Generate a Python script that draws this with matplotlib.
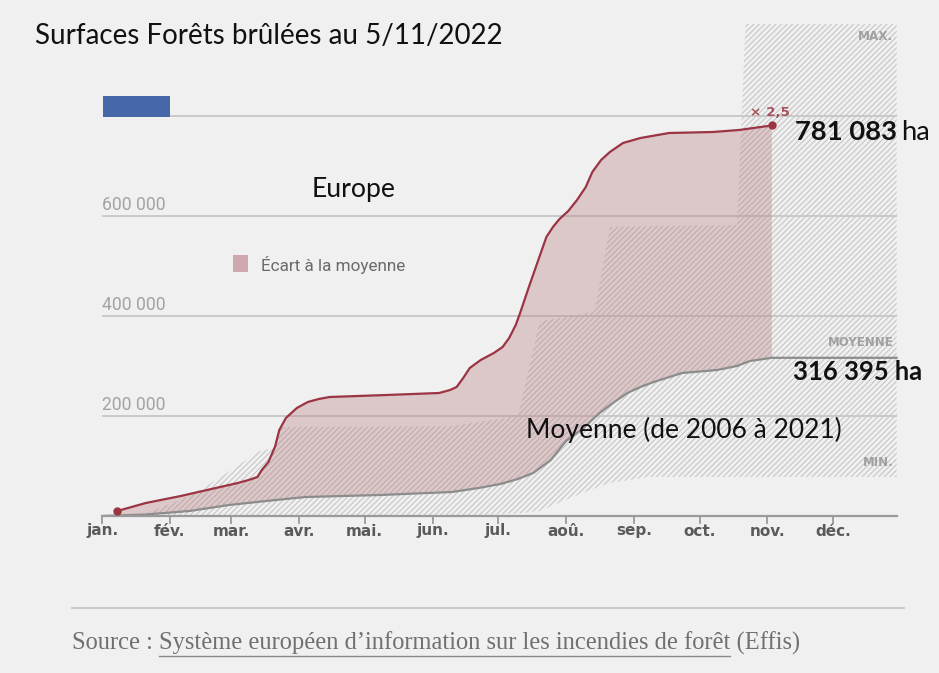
import matplotlib
matplotlib.use('Agg')
import matplotlib.pyplot as plt
import numpy as np
from matplotlib.patches import Rectangle
from matplotlib.lines import Line2D

# ---------------- data ----------------
month_labels = ['jan.', 'fév.', 'mar.', 'avr.', 'mai.', 'jun.', 'jul.', 'aoû.', 'sep.', 'oct.', 'nov.', 'déc.']
month_starts = [0, 31, 59, 90, 120, 151, 181, 212, 243, 273, 304, 334]

y_ticks = [200000, 400000, 600000]
y_tick_labels = ['200 000', '400 000', '600 000']

# 2022 cumulative burnt area (day of year, hectares)
days_2022 = [7, 20, 36, 50, 62, 67, 71, 73, 76, 79, 81, 84, 89, 94, 99, 104, 130, 154, 159,
             162, 165, 168, 173, 179, 183, 186, 189, 191, 193, 195, 199, 203, 206, 209, 213,
             217, 221, 224, 228, 232, 238, 246, 259, 279, 291, 306]
vals_2022 = [10000, 26000, 40000, 54000, 66000, 72000, 78000, 92000, 108000, 138000, 172000,
             196000, 216000, 228000, 234000, 238000, 242000, 246000, 252000, 258000, 276000,
             296000, 312000, 326000, 338000, 356000, 382000, 406000, 432000, 458000, 508000,
             558000, 578000, 594000, 610000, 632000, 658000, 688000, 712000, 728000, 746000,
             756000, 766000, 768000, 772000, 781083]

# mean 2006-2021
days_mean = [0, 20, 40, 58, 75, 93, 127, 160, 172, 182, 190, 197, 205, 212, 220, 227, 234,
             240, 246, 252, 265, 281, 290, 296, 306]
vals_mean = [0, 3000, 10000, 22000, 30000, 38000, 42000, 48000, 56000, 64000, 74000, 86000,
             112000, 150000, 176000, 205000, 228000, 246000, 258000, 268000, 286000, 292000,
             300000, 310000, 316395]

# min / max envelope 2006-2021
days_env = [0, 20, 40, 55, 72, 78, 82, 160, 190, 200, 215, 225, 232, 250, 290, 294, 363]
vals_max = [0, 5000, 40000, 80000, 130000, 136000, 178000, 180000, 200000, 390000, 400000,
            410000, 578000, 580000, 582000, 984000, 984000]
vals_min = [0, 0, 0, 0, 0, 0, 0, 0, 5000, 10000, 38000, 55000, 66000, 78000, 78000, 78000, 78000]

total_2022 = '781 083'
total_mean = '316 395'
ratio = '× 2,5'

# ---------------- figure ----------------
W, H = 939, 673
fig = plt.figure(figsize=(W / 100, H / 100), dpi=100)
BG = '#f0f0f0'
fig.patch.set_facecolor(BG)


def fx(x):
    return x / W


def fy(y):
    return 1 - y / H


ax = fig.add_axes([fx(102), fy(516), fx(901) - fx(102), fy(16) - fy(516)])
ax.set_xlim(0, 365)
ax.set_ylim(0, 1_000_000)
ax.axis('off')
ax.patch.set_alpha(0)

plt.rcParams['hatch.linewidth'] = 0.75

# envelope hatch
ax.fill_between(days_env, vals_min, vals_max, facecolor='none', edgecolor='#c4c4c4',
                hatch='//////', linewidth=0, zorder=1)

# grid lines
END = 363
for v in y_ticks:
    ax.plot([0, END], [v, v], color='#c6c6c6', lw=1.3, zorder=2, solid_capstyle='butt')
ax.plot([31, END], [800000, 800000], color='#c6c6c6', lw=1.3, zorder=2, solid_capstyle='butt')

NARROW = ['Liberation Sans Narrow', 'DejaVu Sans']

# pink fill between 2022 and mean
grid = np.linspace(days_2022[0], days_2022[-1], 600)
r_i = np.interp(grid, days_2022, vals_2022)
m_i = np.interp(grid, days_mean, vals_mean)
ax.fill_between(grid, m_i, r_i, facecolor='#b5767b', alpha=0.33, linewidth=0, zorder=3)

# mean line + extension
ax.plot(days_mean + [END], vals_mean + [vals_mean[-1]], color='#8c8c8c', lw=1.6, zorder=4,
        solid_joinstyle='round')
# 2022 line
ax.plot(days_2022, vals_2022, color='#9b3443', lw=1.6, zorder=5, solid_joinstyle='round')
ax.plot([days_2022[0], days_2022[-1]], [vals_2022[0], vals_2022[-1]], 'o', color='#9b3443',
        ms=5, zorder=6)

# x axis
ax.plot([0, END], [0, 0], color='#9a9a9a', lw=1.6, zorder=4, clip_on=False)
for d, lab in zip(month_starts, month_labels):
    ax.plot([d, d], [-14000, 0], color='#9a9a9a', lw=1.3, clip_on=False, zorder=4)
    ax.text(d, -30000, lab, ha='center', va='center', fontsize=11, color='#5a5a5a',
            family=NARROW, fontweight='bold')

# blue box
fig.patches.append(Rectangle((fx(103), fy(117)), fx(170) - fx(103), fy(96) - fy(117),
                             transform=fig.transFigure, facecolor='#4668a8', edgecolor='none'))

# legend
fig.patches.append(Rectangle((fx(233), fy(272)), fx(248) - fx(233), fy(255) - fy(272),
                             transform=fig.transFigure, facecolor='#cfa8ad', edgecolor='none'))

fig.canvas.draw()
R = fig.canvas.get_renderer()


def fit(x0, x1, yc, s, **kw):
    t = fig.text(fx(x0), fy(yc), s, va='center', ha='left', **kw)
    w = t.get_window_extent(renderer=R).width
    t.set_fontsize(t.get_fontsize() * (x1 - x0) / w)
    return t


def width_of(s, **kw):
    t = fig.text(0, 0, s, **kw)
    w = t.get_window_extent(renderer=R).width
    t.remove()
    return w


# y tick labels (placed above grid lines)
ROB = ['Roboto', 'DejaVu Sans']
for v, lab in zip(y_ticks, y_tick_labels):
    ypx = 516 - v / 2000.0
    fit(102, 166, ypx - 11, lab, fontsize=11, color='#a3a3a3', family=ROB)

SANS = ['Lato', 'DejaVu Sans']
fit(35, 503, 36, 'Surfaces Forêts brûlées au 5/11/2022', fontsize=16, color='#111111', family=SANS)
fit(312, 396, 190, 'Europe', fontsize=16, color='#111111', family=SANS)
fit(526, 843, 430, 'Moyenne (de 2006 à 2021)', fontsize=16, color='#111111', family=SANS)

t1 = fit(795, 897, 132, total_2022, fontsize=16, color='#111111', family=SANS, fontweight='bold')
fig.text(fx(901), fy(132), 'ha', va='center', ha='left', fontsize=t1.get_fontsize(),
         color='#111111', family=SANS)
fit(793, 922, 372, total_mean + ' ha', fontsize=16, color='#111111', family=SANS,
    fontweight='bold')

fit(261, 406, 265, 'Écart à la moyenne', fontsize=10, color='#6a6a6a', family=ROB)
fit(750, 790, 112, ratio, fontsize=9, color='#a8505c', family=NARROW, fontweight='bold')
fit(858, 893, 37, 'MAX.', fontsize=9, color='#a0a0a0', family=NARROW, fontweight='bold')
fit(828, 893, 343, 'MOYENNE', fontsize=9, color='#a0a0a0', family=NARROW, fontweight='bold')
fit(863, 893, 463, 'MIN.', fontsize=9, color='#a0a0a0', family=NARROW, fontweight='bold')

# source
fig.add_artist(Line2D([fx(72), fx(904)], [fy(608), fy(608)], color='#c0c0c0', lw=1.2,
                      transform=fig.transFigure))
SERIF = ['Liberation Serif', 'DejaVu Serif']
part1 = 'Source : '
part2 = 'Système européen d’information sur les incendies de forêt'
part3 = ' (Effis)'
ts = fit(72, 805, 643, part1 + part2 + part3, fontsize=14, color='#707070', family=SERIF)
fs = ts.get_fontsize()
w1 = width_of(part1, fontsize=fs, family=SERIF)
w12 = width_of(part1 + part2, fontsize=fs, family=SERIF)
fig.add_artist(Line2D([fx(72 + w1), fx(72 + w12)], [fy(656), fy(656)], color='#8a8a8a', lw=1.0,
                      transform=fig.transFigure))

fig.savefig('out.png', dpi=100, facecolor=BG)
